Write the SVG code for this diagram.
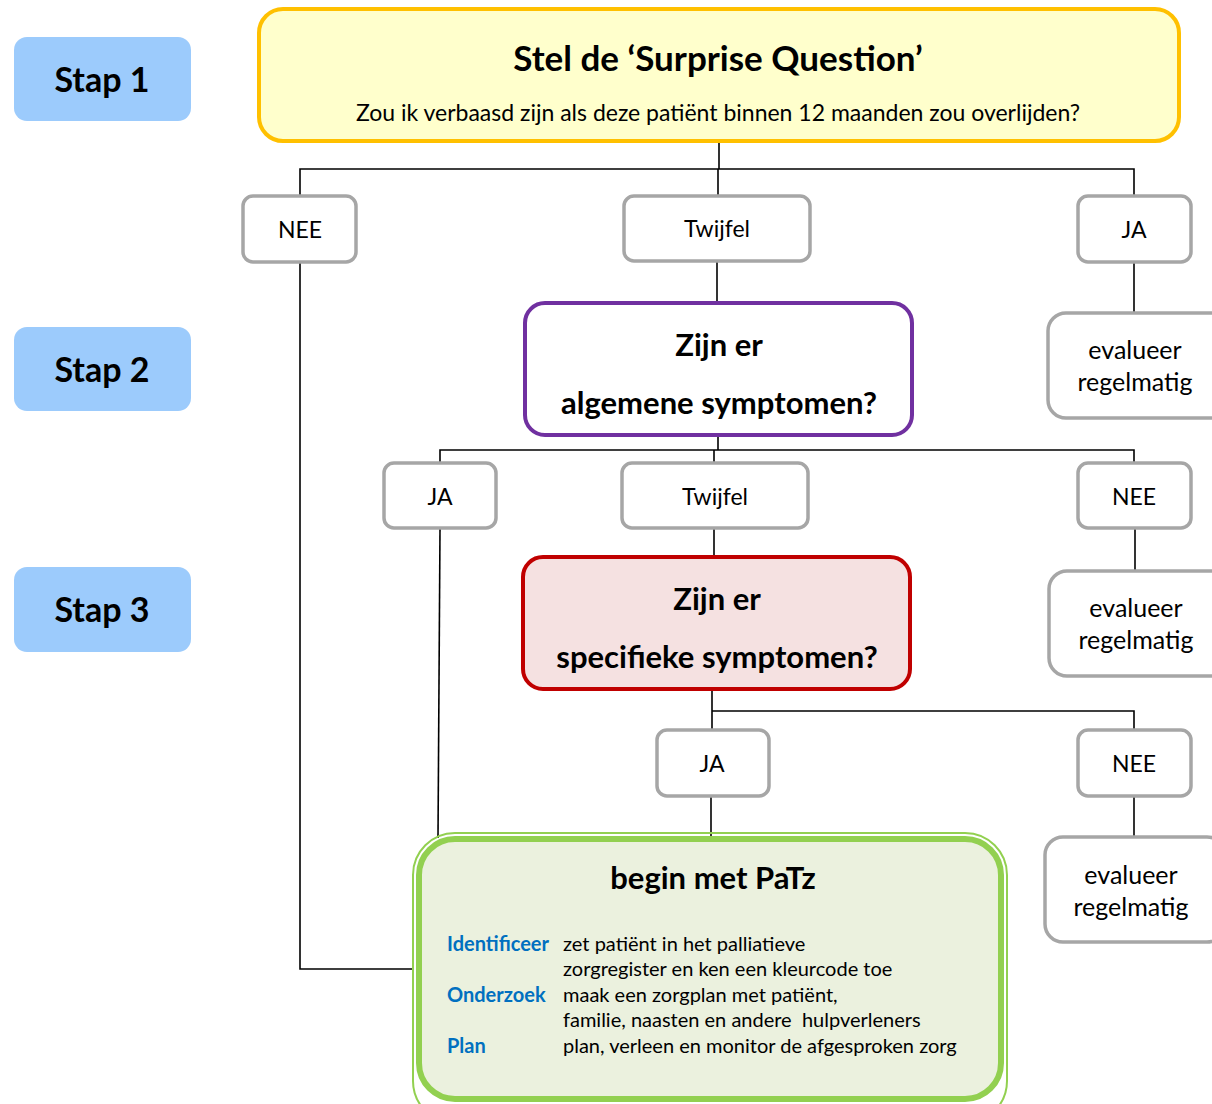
<svg xmlns="http://www.w3.org/2000/svg" width="1212" height="1104" viewBox="0 0 1212 1104">
<style>
text{font-family:Lato,"Open Sans","Liberation Sans",sans-serif;fill:#000;text-anchor:middle}
.stap rect{fill:#9CCBFC;stroke:none}
.stap text{font-size:34px;font-weight:bold}
.opt rect{fill:#fff;stroke:#A6A6A6;stroke-width:3.5}
.opt text{font-size:23px}
.eval rect{fill:#fff;stroke:#A6A6A6;stroke-width:3.5}
.eval text{font-size:25px}
.q text{font-size:31px;font-weight:bold}
.conn{fill:none;stroke:#000;stroke-width:1.6}
.lbl{font-size:20px;font-weight:bold;fill:#0070C0;text-anchor:start}
.body{font-size:20px;text-anchor:start;white-space:pre}
</style>
<rect width="1212" height="1104" fill="#fff"/>
<g id="stap1" class="stap"><rect x="14" y="37" width="177" height="84" rx="13"/><text x="102" y="92">Stap 1</text></g>
<g id="stap2" class="stap"><rect x="14" y="327" width="177" height="84" rx="13"/><text x="102" y="382">Stap 2</text></g>
<g id="stap3" class="stap"><rect x="14" y="567" width="177" height="85" rx="13"/><text x="102" y="622">Stap 3</text></g>

<g id="connectors" class="conn">
<path d="M719 142V169M300 195V169H1134V195M718 169V195"/>
<path d="M300 263V969H413"/>
<path d="M717 262V302"/>
<path d="M1134 263V312"/>
<path d="M718 436V450M440 462V450H1134V462M714 450V462"/>
<path d="M440 529L438 838"/>
<path d="M714 529V556"/>
<path d="M1135 529V570"/>
<path d="M712 690V729M712 711H1134V729"/>
<path d="M711 797V836"/>
<path d="M1134 797V836"/>
</g>

<g id="surprise"><rect x="259" y="9" width="920" height="132" rx="24" fill="#FFFFCC" stroke="#FFC000" stroke-width="4"/>
<text x="718" y="71" font-size="35" font-weight="bold">Stel de ‘Surprise Question’</text>
<text x="718" y="121" font-size="23">Zou ik verbaasd zijn als deze patiënt binnen 12 maanden zou overlijden?</text></g>

<g id="nee1" class="opt"><rect x="243" y="196" width="113" height="66" rx="10"/><text x="300" y="238">NEE</text></g>
<g id="twijfel1" class="opt"><rect x="624" y="196" width="186" height="65" rx="10"/><text x="717" y="237">Twijfel</text></g>
<g id="ja1" class="opt"><rect x="1078" y="196" width="113" height="66" rx="10"/><text x="1134" y="238">JA</text></g>
<g id="eval1" class="eval"><rect x="1048" y="313" width="180" height="105" rx="18"/><text x="1135" y="359">evalueer</text><text x="1135" y="391">regelmatig</text></g>

<g id="algemeen" class="q"><rect x="525" y="303" width="387" height="132" rx="20" fill="#fff" stroke="#7030A0" stroke-width="4"/>
<text x="719" y="356">Zijn er</text><text x="719" y="414">algemene symptomen?</text></g>

<g id="ja2" class="opt"><rect x="384" y="463" width="112" height="65" rx="10"/><text x="440" y="505">JA</text></g>
<g id="twijfel2" class="opt"><rect x="622" y="463" width="186" height="65" rx="10"/><text x="715" y="505">Twijfel</text></g>
<g id="nee2" class="opt"><rect x="1078" y="463" width="113" height="65" rx="10"/><text x="1134" y="505">NEE</text></g>
<g id="eval2" class="eval"><rect x="1049" y="571" width="180" height="105" rx="18"/><text x="1136" y="617">evalueer</text><text x="1136" y="649">regelmatig</text></g>

<g id="specifiek" class="q"><rect x="523" y="557" width="387" height="132" rx="20" fill="#F5E1E1" stroke="#C00000" stroke-width="4"/>
<text x="717" y="610">Zijn er</text><text x="717" y="668">specifieke symptomen?</text></g>

<g id="ja3" class="opt"><rect x="657" y="730" width="112" height="66" rx="10"/><text x="712" y="772">JA</text></g>
<g id="nee3" class="opt"><rect x="1078" y="730" width="113" height="66" rx="10"/><text x="1134" y="772">NEE</text></g>
<g id="eval3" class="eval"><rect x="1045" y="837" width="180" height="105" rx="18"/><text x="1131" y="884">evalueer</text><text x="1131" y="916">regelmatig</text></g>

<g id="patz">
<rect x="413" y="833" width="594" height="290" rx="42" fill="none" stroke="#92D050" stroke-width="2"/>
<rect x="419" y="839" width="582" height="260" rx="36" fill="#EBF1DE" stroke="#92D050" stroke-width="6"/>
<text x="713" y="889" font-size="31" font-weight="bold">begin met PaTz</text>
<text class="lbl" x="447" y="951">Identificeer</text>
<text class="lbl" x="447" y="1002">Onderzoek</text>
<text class="lbl" x="447" y="1053">Plan</text>
<text class="body" x="563" y="951">zet patiënt in het palliatieve</text>
<text class="body" x="563" y="976">zorgregister en ken een kleurcode toe</text>
<text class="body" x="563" y="1002">maak een zorgplan met patiënt,</text>
<text class="body" x="563" y="1027" xml:space="preserve">familie, naasten en andere  hulpverleners</text>
<text class="body" x="563" y="1053">plan, verleen en monitor de afgesproken zorg</text>
</g>
</svg>
